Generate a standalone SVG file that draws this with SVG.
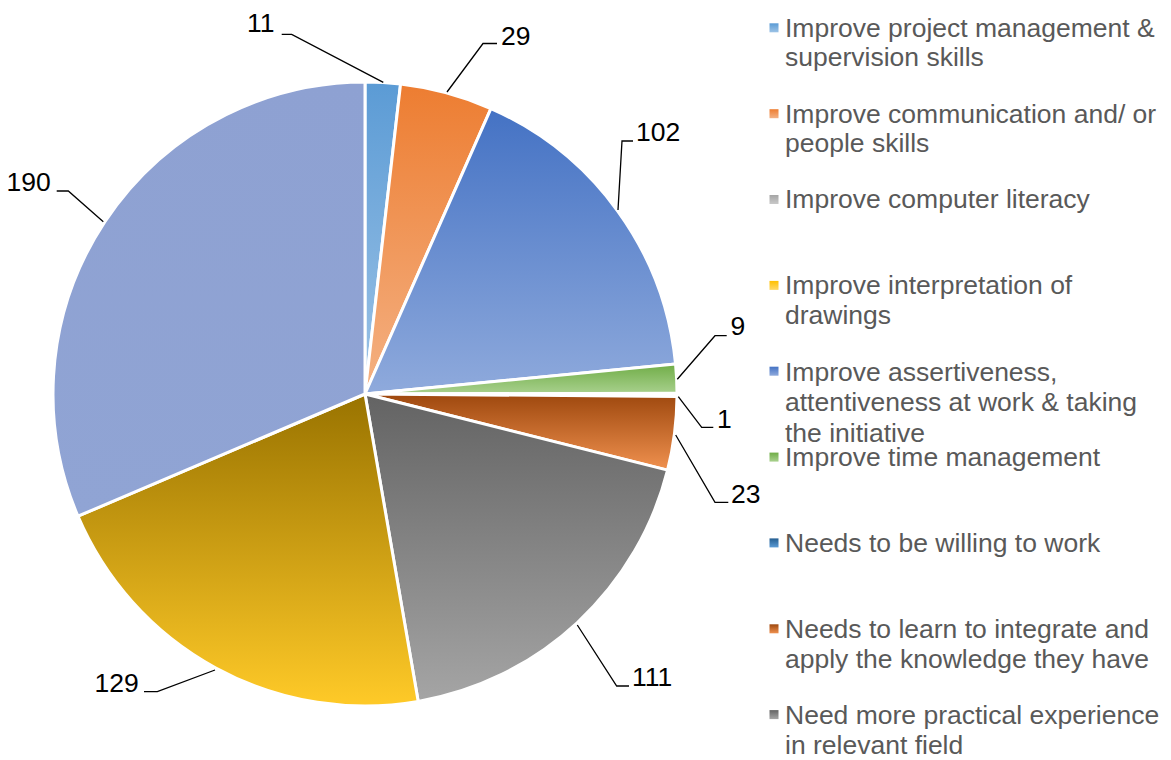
<svg xmlns="http://www.w3.org/2000/svg" width="1171" height="760" viewBox="0 0 1171 760">
  <style>
    .slice { stroke: #ffffff; stroke-width: 3; stroke-linejoin: round; }
    .lbl { font-family: "Liberation Sans", Arial, sans-serif; font-size: 26.5px; fill: #000000; }
    .leg { font-family: "Liberation Sans", Arial, sans-serif; font-size: 26.5px; fill: #595959; }
    .lead { fill: none; stroke: #000000; stroke-width: 1.3; }
  </style>
  <defs>
    <linearGradient id="gLtBlue" x1="0" y1="0" x2="0" y2="1"><stop offset="0" stop-color="#5B9BD5"/><stop offset="1" stop-color="#9DC3E6"/></linearGradient>
    <linearGradient id="gOrange" x1="0" y1="0" x2="0" y2="1"><stop offset="0" stop-color="#ED7D31"/><stop offset="1" stop-color="#F4B183"/></linearGradient>
    <linearGradient id="gLtGray" x1="0" y1="0" x2="0" y2="1"><stop offset="0" stop-color="#A5A5A5"/><stop offset="1" stop-color="#C9C9C9"/></linearGradient>
    <linearGradient id="gYellowL" x1="0" y1="0" x2="0" y2="1"><stop offset="0" stop-color="#FFC000"/><stop offset="1" stop-color="#FFD966"/></linearGradient>
    <linearGradient id="gBlue" x1="0" y1="0" x2="0" y2="1"><stop offset="0" stop-color="#4472C4"/><stop offset="1" stop-color="#8FAADC"/></linearGradient>
    <linearGradient id="gGreen" x1="0" y1="0" x2="0" y2="1"><stop offset="0" stop-color="#70AD47"/><stop offset="1" stop-color="#A9D18E"/></linearGradient>
    <linearGradient id="gDkBlue" x1="0" y1="0" x2="0" y2="1"><stop offset="0" stop-color="#255E91"/><stop offset="1" stop-color="#5B9BD5"/></linearGradient>
    <linearGradient id="gBrown" x1="0" y1="0" x2="0" y2="1"><stop offset="0" stop-color="#9E480E"/><stop offset="1" stop-color="#F0914F"/></linearGradient>
    <linearGradient id="gDkGray" x1="0" y1="0" x2="0" y2="1"><stop offset="0" stop-color="#636363"/><stop offset="1" stop-color="#A5A5A5"/></linearGradient>
    <linearGradient id="gGold" x1="0" y1="0" x2="0" y2="1"><stop offset="0" stop-color="#997300"/><stop offset="1" stop-color="#FFCA28"/></linearGradient>
    <linearGradient id="gLav" x1="0" y1="0" x2="0" y2="1"><stop offset="0" stop-color="#8EA1D2"/><stop offset="1" stop-color="#90A4D4"/></linearGradient>
  </defs>
  <rect x="0" y="0" width="1171" height="760" fill="#ffffff"/>

  <g id="pie">
    <g id="slice-11"><path class="slice" fill="url(#gLtBlue)" d="M365 394 L365 82 A312 312 0 0 1 400.57 84.03 Z"/></g>
    <g id="slice-29"><path class="slice" fill="url(#gOrange)" d="M365 394 L400.57 84.03 A312 312 0 0 1 490.91 108.53 Z"/></g>
    <g id="slice-102"><path class="slice" fill="url(#gBlue)" d="M365 394 L490.91 108.53 A312 312 0 0 1 675.56 364.08 Z"/></g>
    <g id="slice-9"><path class="slice" fill="url(#gGreen)" d="M365 394 L675.56 364.08 A312 312 0 0 1 677.0 393.19 Z"/></g>
    <g id="slice-1"><path class="slice" fill="url(#gDkBlue)" d="M365 394 L677.0 393.19 A312 312 0 0 1 676.99 396.43 Z"/></g>
    <g id="slice-23"><path class="slice" fill="url(#gBrown)" d="M365 394 L676.99 396.43 A312 312 0 0 1 667.56 470.17 Z"/></g>
    <g id="slice-111"><path class="slice" fill="url(#gDkGray)" d="M365 394 L667.56 470.17 A312 312 0 0 1 418.21 701.43 Z"/></g>
    <g id="slice-129"><path class="slice" fill="url(#gGold)" d="M365 394 L418.21 701.43 A312 312 0 0 1 77.94 516.20 Z"/></g>
    <g id="slice-190"><path class="slice" fill="url(#gLav)" d="M365 394 L77.94 516.20 A312 312 0 0 1 365 82 Z"/></g>
  </g>

  <g id="connectors">
    <polyline class="lead" points="281.7,34.3 291.7,34.3 383.3,82.3"/>
    <polyline class="lead" points="497,43.5 483,43.5 447,92"/>
    <polyline class="lead" points="633,141 622,141 618,210"/>
    <polyline class="lead" points="726.7,335.7 715,335.7 677.3,379.3"/>
    <polyline class="lead" points="713.3,427.3 701.7,427.3 678.3,396.7"/>
    <polyline class="lead" points="728.3,502.3 715,502.3 675.7,435"/>
    <polyline class="lead" points="629,686 616.7,686 577.3,625"/>
    <polyline class="lead" points="144,691.7 157.3,691.7 215,670"/>
    <polyline class="lead" points="56.7,191 68.3,191 103.3,221.7"/>
  </g>

  <g id="data-labels">
    <text class="lbl" x="247" y="32">11</text>
    <text class="lbl" x="501" y="45">29</text>
    <text class="lbl" x="636" y="141">102</text>
    <text class="lbl" x="730.5" y="335">9</text>
    <text class="lbl" x="717" y="427.5">1</text>
    <text class="lbl" x="731" y="502.5">23</text>
    <text class="lbl" x="632" y="686">111</text>
    <text class="lbl" x="94.5" y="692">129</text>
    <text class="lbl" x="6.5" y="191">190</text>
  </g>

  <g id="legend">
    <g id="leg-1"><rect x="769.5" y="23.3" width="9" height="9" fill="url(#gLtBlue)"/><text class="leg" x="785" y="36.7">Improve project management &amp;<tspan x="785" dy="29.5">supervision skills</tspan></text></g>
    <g id="leg-2"><rect x="769.5" y="109.2" width="9" height="9" fill="url(#gOrange)"/><text class="leg" x="785" y="122.6">Improve communication and/ or<tspan x="785" dy="29.5">people skills</tspan></text></g>
    <g id="leg-3"><rect x="769.5" y="195" width="9" height="9" fill="url(#gLtGray)"/><text class="leg" x="785" y="208.4">Improve computer literacy</text></g>
    <g id="leg-4"><rect x="769.5" y="280.9" width="9" height="9" fill="url(#gYellowL)"/><text class="leg" x="785" y="294.3">Improve interpretation of<tspan x="785" dy="30">drawings</tspan></text></g>
    <g id="leg-5"><rect x="769.5" y="366.7" width="9" height="9" fill="url(#gBlue)"/><text class="leg" x="785" y="380.6">Improve assertiveness,<tspan x="785" dy="30.5">attentiveness at work &amp; taking</tspan><tspan x="785" dy="30.5">the initiative</tspan></text></g>
    <g id="leg-6"><rect x="769.5" y="452.6" width="9" height="9" fill="url(#gGreen)"/><text class="leg" x="785" y="466">Improve time management</text></g>
    <g id="leg-7"><rect x="769.5" y="538.4" width="9" height="9" fill="url(#gDkBlue)"/><text class="leg" x="785" y="551.8">Needs to be willing to work</text></g>
    <g id="leg-8"><rect x="769.5" y="624.3" width="9" height="9" fill="url(#gBrown)"/><text class="leg" x="785" y="637.6">Needs to learn to integrate and<tspan x="785" dy="30.8">apply the knowledge they have</tspan></text></g>
    <g id="leg-9"><rect x="769.5" y="710.1" width="9" height="9" fill="url(#gDkGray)"/><text class="leg" x="785" y="723.5">Need more practical experience<tspan x="785" dy="30">in relevant field</tspan></text></g>
  </g>
</svg>
